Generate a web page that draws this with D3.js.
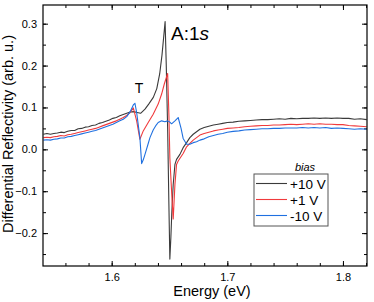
<!DOCTYPE html>
<html>
<head>
<meta charset="UTF-8">
<title>Differential reflectivity</title>
<style>
  body { margin: 0; background: #fff; }
  text { font-family: "Liberation Sans", Arial, sans-serif; fill: #000; }
</style>
</head>
<body>
<div id="chart"></div>
<script src="https://d3js.org/d3.v7.min.js"></script>
<script>
// series: [energy (eV), differential reflectivity]
const plus10 = [[1.541,0.036],[1.544,0.038],[1.547,0.036],[1.550,0.038],[1.553,0.039],[1.556,0.041],[1.559,0.040],[1.562,0.043],[1.565,0.045],[1.568,0.045],[1.571,0.049],[1.574,0.050],[1.577,0.053],[1.580,0.054],[1.583,0.057],[1.586,0.058],[1.589,0.062],[1.592,0.064],[1.595,0.067],[1.598,0.070],[1.601,0.074],[1.604,0.076],[1.607,0.080],[1.610,0.083],[1.613,0.086],[1.616,0.089],[1.619,0.090],[1.622,0.088],[1.625,0.086],[1.6288,0.096],[1.632,0.108],[1.636,0.124],[1.639,0.145],[1.6415,0.180],[1.6435,0.225],[1.6452,0.275],[1.6462,0.305],[1.6472,0.20],[1.6484,0.05],[1.6494,-0.12],[1.6503,-0.262],[1.6512,-0.21],[1.6520,-0.15],[1.6532,-0.084],[1.6547,-0.036],[1.6561,-0.024],[1.6590,-0.012],[1.6618,0.004],[1.6648,0.016],[1.6676,0.028],[1.6705,0.036],[1.6734,0.042],[1.6763,0.048],[1.680,0.052],[1.684,0.055],[1.688,0.058],[1.692,0.060],[1.696,0.062],[1.700,0.064],[1.705,0.065],[1.710,0.067],[1.715,0.068],[1.720,0.069],[1.725,0.070],[1.730,0.071],[1.735,0.071],[1.740,0.072],[1.745,0.073],[1.750,0.072],[1.755,0.074],[1.760,0.073],[1.765,0.074],[1.770,0.074],[1.775,0.075],[1.780,0.074],[1.785,0.075],[1.790,0.074],[1.795,0.075],[1.800,0.074],[1.805,0.074],[1.810,0.072],[1.815,0.073],[1.8205,0.071]];

const plus1 = [[1.541,0.028],[1.544,0.029],[1.547,0.028],[1.550,0.030],[1.553,0.031],[1.556,0.033],[1.559,0.032],[1.562,0.035],[1.565,0.036],[1.568,0.038],[1.571,0.040],[1.574,0.042],[1.577,0.044],[1.580,0.046],[1.583,0.048],[1.586,0.050],[1.589,0.053],[1.592,0.056],[1.595,0.059],[1.598,0.062],[1.601,0.065],[1.604,0.068],[1.607,0.072],[1.610,0.076],[1.613,0.081],[1.616,0.088],[1.6187,0.099],[1.6216,0.068],[1.6244,0.024],[1.6273,0.044],[1.6316,0.064],[1.6359,0.084],[1.6402,0.108],[1.6432,0.132],[1.6455,0.156],[1.6484,0.181],[1.6495,0.08],[1.6503,-0.02],[1.6518,-0.10],[1.6532,-0.166],[1.6547,-0.084],[1.6561,-0.036],[1.6575,-0.028],[1.6618,-0.010],[1.6648,0.006],[1.6676,0.014],[1.6705,0.022],[1.6734,0.028],[1.6763,0.034],[1.680,0.038],[1.684,0.041],[1.688,0.044],[1.692,0.046],[1.696,0.048],[1.700,0.050],[1.705,0.051],[1.710,0.052],[1.715,0.054],[1.720,0.055],[1.725,0.056],[1.730,0.057],[1.735,0.057],[1.740,0.058],[1.745,0.058],[1.750,0.059],[1.755,0.060],[1.760,0.059],[1.765,0.060],[1.770,0.061],[1.775,0.060],[1.780,0.061],[1.785,0.060],[1.790,0.060],[1.795,0.059],[1.800,0.059],[1.805,0.057],[1.810,0.056],[1.815,0.055],[1.8205,0.054]];

const minus10 = [[1.541,0.022],[1.544,0.023],[1.547,0.022],[1.550,0.024],[1.553,0.025],[1.556,0.027],[1.559,0.027],[1.562,0.030],[1.565,0.031],[1.568,0.033],[1.571,0.035],[1.574,0.037],[1.577,0.039],[1.580,0.041],[1.583,0.043],[1.586,0.045],[1.589,0.048],[1.592,0.051],[1.595,0.054],[1.598,0.057],[1.601,0.060],[1.604,0.064],[1.607,0.068],[1.610,0.072],[1.613,0.078],[1.616,0.090],[1.6187,0.106],[1.6201,0.110],[1.6216,0.088],[1.6244,0.028],[1.6259,-0.034],[1.6273,-0.025],[1.6288,-0.012],[1.6316,0.014],[1.6331,0.028],[1.6359,0.046],[1.6385,0.058],[1.6402,0.064],[1.6432,0.068],[1.6460,0.066],[1.6484,0.068],[1.6503,0.065],[1.6518,0.061],[1.6547,0.068],[1.6575,0.076],[1.6600,0.050],[1.6618,0.026],[1.6648,0.012],[1.6676,0.012],[1.6705,0.016],[1.6734,0.018],[1.6763,0.022],[1.680,0.025],[1.684,0.030],[1.688,0.033],[1.692,0.036],[1.696,0.038],[1.700,0.041],[1.705,0.043],[1.710,0.044],[1.715,0.046],[1.720,0.047],[1.725,0.048],[1.730,0.049],[1.735,0.049],[1.740,0.050],[1.745,0.050],[1.750,0.051],[1.755,0.051],[1.760,0.051],[1.765,0.052],[1.770,0.051],[1.775,0.052],[1.780,0.051],[1.785,0.052],[1.790,0.050],[1.795,0.051],[1.800,0.050],[1.805,0.049],[1.810,0.048],[1.815,0.049],[1.8205,0.048]];

const seriesNames = ["+10 V", "+1 V", "-10 V"];
const seriesColors = ["#3a3a3a", "#f03a3c", "#1f70e0"];
const xTicks = [1.6, 1.7, 1.8];
const yTicks = [-0.2, -0.1, 0.0, 0.1, 0.2, 0.3];

let width = 374;
let height = 302;
let pLeft = 43, pRight = 367, pTop = 5, pBottom = 266;

let svg = d3.select("#chart").append("svg").attr("width", width).attr("height", height);

let x = d3.scaleLinear().domain([1.5406, 1.8208]).range([pLeft, pRight]);
let y = d3.scaleLinear().domain([-0.2785, 0.3446]).range([pBottom, pTop]);

let xMinor = d3.range(1.56, 1.821, 0.02);
let yMinor = d3.range(-0.25, 0.341, 0.05);

function styleAxis(g) {
  g.select(".domain").remove();
  g.selectAll("line").attr("stroke", "#000").attr("stroke-width", 1);
  g.selectAll("text").style("font-size", "11px").style("font-family", "'Liberation Sans', Arial, sans-serif");
}

// minor ticks on all four sides
svg.append("g").attr("transform", `translate(0,${pBottom})`)
  .call(d3.axisBottom(x).tickValues(xMinor).tickSize(-3).tickFormat("")).call(styleAxis);
svg.append("g").attr("transform", `translate(0,${pTop})`)
  .call(d3.axisTop(x).tickValues(xMinor).tickSize(-3).tickFormat("")).call(styleAxis);
svg.append("g").attr("transform", `translate(${pLeft},0)`)
  .call(d3.axisLeft(y).tickValues(yMinor).tickSize(-3).tickFormat("")).call(styleAxis);
svg.append("g").attr("transform", `translate(${pRight},0)`)
  .call(d3.axisRight(y).tickValues(yMinor).tickSize(-3).tickFormat("")).call(styleAxis);

// major ticks
svg.append("g").attr("transform", `translate(0,${pBottom})`)
  .call(d3.axisBottom(x).tickValues(xTicks).tickSize(-5).tickPadding(7).tickFormat(d3.format(".1f"))).call(styleAxis);
svg.append("g").attr("transform", `translate(0,${pTop})`)
  .call(d3.axisTop(x).tickValues(xTicks).tickSize(-5).tickFormat("")).call(styleAxis);
svg.append("g").attr("transform", `translate(${pLeft},0)`)
  .call(d3.axisLeft(y).tickValues(yTicks).tickSize(-5).tickPadding(6).tickFormat(d3.format(".1f"))).call(styleAxis);
svg.append("g").attr("transform", `translate(${pRight},0)`)
  .call(d3.axisRight(y).tickValues(yTicks).tickSize(-5).tickFormat("")).call(styleAxis);

svg.append("clipPath").attr("id", "clip").append("rect")
  .attr("x", pLeft).attr("y", pTop).attr("width", pRight - pLeft).attr("height", pBottom - pTop);

let line = d3.line().x(d => x(d[0])).y(d => y(d[1]));

[plus10, plus1, minus10].forEach(function(s, i) {
  svg.append("path")
    .datum(s)
    .attr("clip-path", "url(#clip)")
    .attr("fill", "none")
    .attr("stroke", seriesColors[i])
    .attr("stroke-width", 1.1)
    .attr("stroke-linejoin", "round")
    .attr("d", line);
});

// frame
svg.append("rect")
  .attr("x", pLeft).attr("y", pTop).attr("width", pRight - pLeft).attr("height", pBottom - pTop)
  .attr("fill", "none").attr("stroke", "#000").attr("stroke-width", 1.2);

// annotations
svg.append("text").attr("x", 171).attr("y", 40).style("font-size", "19px")
  .text("A:1").append("tspan").style("font-style", "italic").text("s");
svg.append("text").attr("x", 139).attr("y", 93).attr("text-anchor", "middle")
  .style("font-size", "14px").text("T");

// axis titles
svg.append("text").attr("x", 212).attr("y", 296).attr("text-anchor", "middle")
  .style("font-size", "14.5px").text("Energy (eV)");
svg.append("text").attr("transform", "translate(13,134) rotate(-90)").attr("text-anchor", "middle")
  .style("font-size", "14.5px").text("Differential Reflectivity (arb. u.)");

// legend
let lg = svg.append("g");
lg.append("text").attr("x", 305).attr("y", 171).attr("text-anchor", "middle")
  .style("font-size", "11px").style("font-style", "italic").text("bias");
lg.append("rect").attr("x", 254).attr("y", 174).attr("width", 74).attr("height", 52)
  .attr("fill", "#fff").attr("stroke", "#555").attr("stroke-width", 1);
seriesNames.forEach(function(n, i) {
  let yy = 183.5 + i * 16;
  lg.append("line").attr("x1", 256).attr("x2", 287).attr("y1", yy).attr("y2", yy)
    .attr("stroke", seriesColors[i]).attr("stroke-width", 1.1);
  lg.append("text").attr("x", 290).attr("y", yy + 5).style("font-size", "13.5px").text(n);
});
</script>
</body>
</html>
